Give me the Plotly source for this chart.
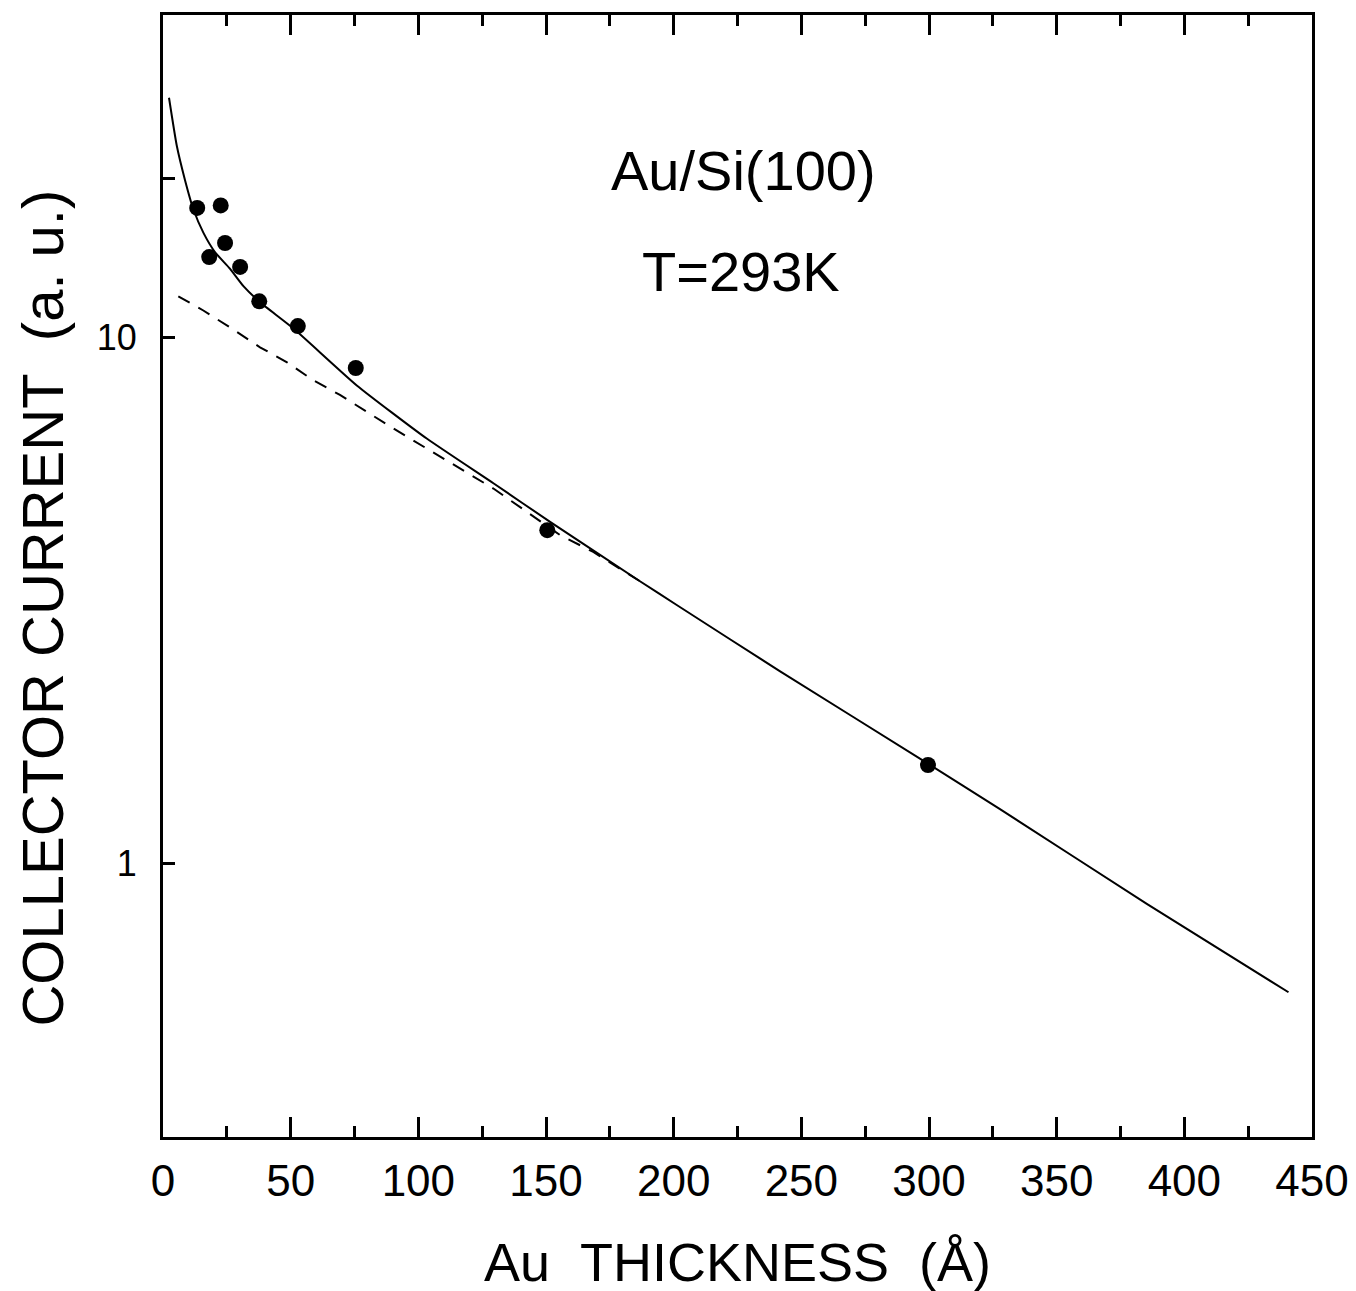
import plotly.graph_objects as go

# Measured data points (Au thickness in Å, collector current a.u.)
pts_x = [13.4, 18.1, 22.6, 24.3, 30.2, 37.7, 52.8, 75.5, 150.5, 299.6]
pts_y = [17.6, 14.2, 17.8, 15.1, 13.6, 11.7, 10.5, 8.74, 4.30, 1.54]

# Solid fit curve
fit_x = [2.35, 5.4, 8.6, 11.9, 15.8, 20.4, 26.2, 31.5, 38.0, 51.0, 75.9, 103.3,
         129.4, 151.6, 186.8, 201.2, 241.7, 297.7, 327.8, 385.3, 440.8]
fit_y = [28.5, 23.1, 19.9, 17.5, 15.8, 14.5, 13.5, 12.5, 11.65, 10.4, 8.1, 6.42,
         5.28, 4.46, 3.44, 3.10, 2.32, 1.57, 1.27, 0.839, 0.570]

# Dashed curve
dash_x = [6.0, 15.8, 26.2, 38.0, 48.4, 58.9, 69.3, 90.2, 129.4, 155.5, 168.5, 186.8]
dash_y = [11.96, 11.24, 10.44, 9.57, 8.97, 8.28, 7.77, 6.71, 5.16, 4.21, 3.91, 3.44]

x_ticks = [0, 50, 100, 150, 200, 250, 300, 350, 400, 450]
y_tickvals = [1, 10, 20]
y_ticktext = ["1", "10", ""]

FONT = "Liberation Sans, Arial, Helvetica, sans-serif"

fig = go.Figure()
fig.add_trace(go.Scatter(x=dash_x, y=dash_y, mode="lines",
                         line=dict(color="black", width=2, dash="13px,10px"),
                         showlegend=False, hoverinfo="skip"))
fig.add_trace(go.Scatter(x=fit_x, y=fit_y, mode="lines",
                         line=dict(color="black", width=2, shape="spline", smoothing=0.5),
                         showlegend=False, hoverinfo="skip"))
fig.add_trace(go.Scatter(x=pts_x, y=pts_y, mode="markers",
                         marker=dict(color="black", size=16, symbol="circle"),
                         showlegend=False))

fig.update_layout(
    width=1348, height=1283,
    margin=dict(l=155, r=44, t=4, b=154),
    paper_bgcolor="white", plot_bgcolor="white",
    font=dict(family=FONT, color="black"),
    xaxis=dict(
        range=[0, 450], tickvals=x_ticks, ticktext=[str(v) for v in x_ticks],
        ticks="inside", ticklen=20, tickwidth=3, tickcolor="black",
        minor=dict(dtick=25, tick0=0, ticks="inside", ticklen=11, tickwidth=3, tickcolor="black"),
        showline=True, linewidth=3, linecolor="black", mirror="allticks",
        showgrid=False, zeroline=False,
        tickfont=dict(size=44, family=FONT, color="black"),
        ticklabelstandoff=3,
    ),
    yaxis=dict(
        type="log", range=[-0.519, 1.612],
        tickvals=y_tickvals, ticktext=y_ticktext,
        ticks="inside", ticklen=12, tickwidth=3, tickcolor="black",
        showline=True, linewidth=3, linecolor="black", mirror=True,
        showgrid=False, zeroline=False,
        tickfont=dict(size=36, family=FONT, color="black"),
        ticklabelstandoff=16,
    ),
    annotations=[
        dict(text="Au/Si(100)", xref="paper", yref="paper", x=0.5048, y=0.861,
             showarrow=False, xanchor="center", yanchor="middle",
             font=dict(size=56, family=FONT, color="black")),
        dict(text="T=293K", xref="paper", yref="paper", x=0.503, y=0.771,
             showarrow=False, xanchor="center", yanchor="middle",
             font=dict(size=56, family=FONT, color="black")),
        dict(text="COLLECTOR CURRENT\u00a0\u00a0(a. u.)", xref="paper", yref="paper",
             x=0, y=0.471, xshift=-120, textangle=-90,
             showarrow=False, xanchor="center", yanchor="middle",
             font=dict(size=58, family=FONT, color="black")),
        dict(text="Au\u00a0\u00a0THICKNESS\u00a0\u00a0(Å)", xref="paper", yref="paper",
             x=0.5, y=0, yshift=-125,
             showarrow=False, xanchor="center", yanchor="middle",
             font=dict(size=54, family=FONT, color="black")),
    ],
)

fig.write_html("out.html")
